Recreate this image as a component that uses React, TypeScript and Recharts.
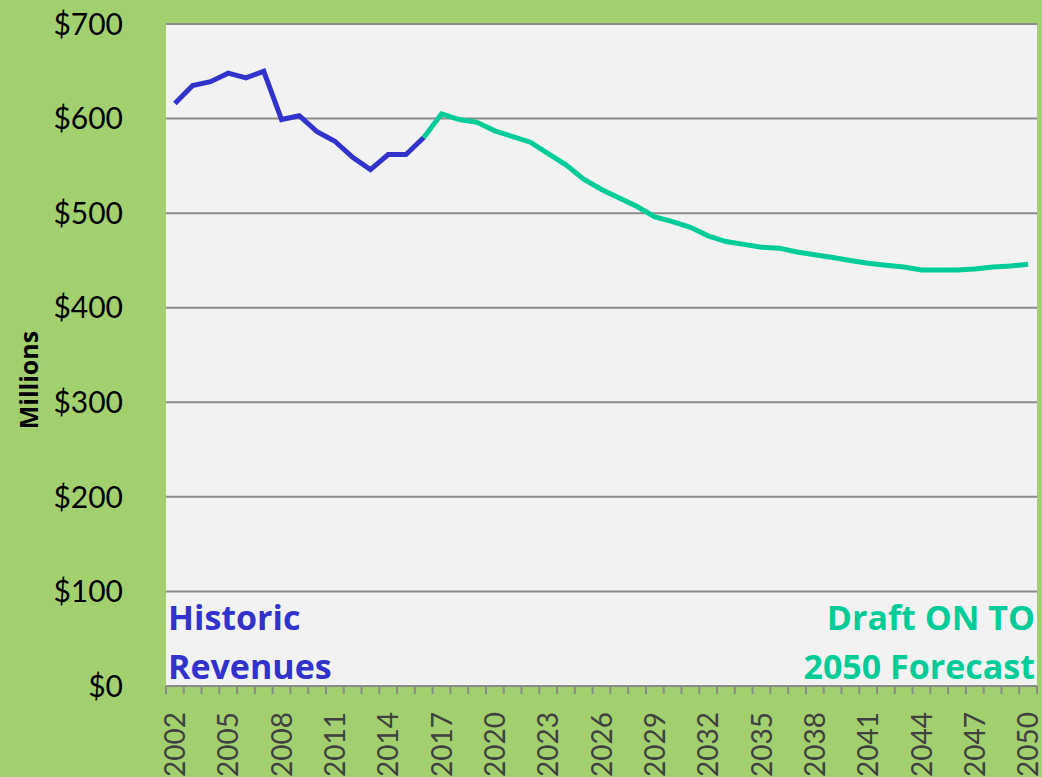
import React from 'react';
import { LineChart, Line, XAxis, YAxis, CartesianGrid } from 'recharts';

const years = [
  2002, 2003, 2004, 2005, 2006, 2007, 2008, 2009, 2010, 2011, 2012, 2013, 2014, 2015, 2016,
  2017, 2018, 2019, 2020, 2021, 2022, 2023, 2024, 2025, 2026, 2027, 2028, 2029, 2030, 2031,
  2032, 2033, 2034, 2035, 2036, 2037, 2038, 2039, 2040, 2041, 2042, 2043, 2044, 2045, 2046,
  2047, 2048, 2049, 2050,
];

// 2002 - 2016
const historic = [616, 635, 639, 648, 643, 650, 599, 603, 586, 576, 559, 546, 562, 562, 580];

// 2016 - 2050
const forecast = [
  580, 605, 599, 596, 587, 581, 575, 563, 551, 536, 525, 516, 507, 496, 491, 485, 476, 470,
  467, 464, 463, 459, 456, 453, 450, 447, 445, 443, 440, 440, 440, 441, 443, 444, 446,
];

const yTicks = [0, 100, 200, 300, 400, 500, 600, 700];

const data = years.map((year, i) => ({
  year,
  historic: i < historic.length ? historic[i] : null,
  forecast: i >= historic.length - 1 ? forecast[i - (historic.length - 1)] : null,
}));

const W = 1042;
const H = 777;
const LEFT = 166;
const RIGHT = 5;
const BAND = (W - LEFT - RIGHT) / years.length;
const BLUE = '#3232cc';
const TEAL = '#00cc98';
const FONT = 'Lato, "Open Sans", sans-serif';
const BOLD_FONT = '"Open Sans", Lato, sans-serif';

const YearTick = (props: any) => {
  const { x, y, payload, index } = props;
  return (
    <g>
      <line x1={x - BAND / 2} x2={x - BAND / 2} y1={y} y2={y + 8} stroke="#8a8a8a" strokeWidth={2} />
      {index === years.length - 1 && (
        <line x1={x + BAND / 2} x2={x + BAND / 2} y1={y} y2={y + 8} stroke="#8a8a8a" strokeWidth={2} />
      )}
      {index % 3 === 0 && (
        <text
          x={x}
          y={y + 26}
          dy="0.36em"
          textAnchor="end"
          transform={`rotate(-90, ${x}, ${y + 26})`}
          fill="#404040"
          fontSize={28}
          fontFamily={FONT}
        >
          {payload.value}
        </text>
      )}
    </g>
  );
};

const MillionsLabel = () => (
  <text
    x={29}
    y={380}
    dy="0.36em"
    textAnchor="middle"
    transform="rotate(-90, 29, 380)"
    fontSize={25}
    fontWeight={700}
    fill="#000"
    fontFamily={BOLD_FONT}
  >
    Millions
  </text>
);

const App: React.FC = () => {
  return (
    <div style={{ position: 'fixed', left: 0, top: 0, width: W, height: H, background: '#a3d06f' }}>
      <LineChart width={W} height={H} data={data} margin={{ top: 24, right: RIGHT, bottom: 0, left: 0 }}>
        <CartesianGrid vertical={false} fill="#f2f2f2" stroke="#8a8a8a" strokeWidth={2} />
        <XAxis
          dataKey="year"
          scale="band"
          interval={0}
          height={91}
          tickSize={0}
          tickMargin={0}
          tick={<YearTick />}
          axisLine={{ stroke: '#8a8a8a', strokeWidth: 2 }}
        />
        <YAxis
          domain={[0, 700]}
          ticks={yTicks}
          width={LEFT}
          axisLine={false}
          tickLine={false}
          tickSize={0}
          tickMargin={43}
          tickFormatter={(v: number) => `$${v}`}
          tick={{ fill: '#000', fontSize: 30, fontFamily: FONT }}
          label={{ content: <MillionsLabel /> }}
        />
        <Line
          dataKey="historic"
          stroke={BLUE}
          strokeWidth={5}
          dot={false}
          isAnimationActive={false}
          connectNulls={false}
        />
        <Line
          dataKey="forecast"
          stroke={TEAL}
          strokeWidth={5}
          dot={false}
          isAnimationActive={false}
          connectNulls={false}
        />
      </LineChart>
      <div
        style={{
          position: 'absolute',
          left: 168,
          top: 593,
          color: BLUE,
          fontFamily: BOLD_FONT,
          fontWeight: 700,
          fontSize: 34,
          lineHeight: '49px',
        }}
      >
        Historic
        <br />
        Revenues
      </div>
      <div
        style={{
          position: 'absolute',
          right: 7,
          top: 593,
          textAlign: 'right',
          color: TEAL,
          fontFamily: BOLD_FONT,
          fontWeight: 700,
          fontSize: 34,
          lineHeight: '49px',
        }}
      >
        Draft ON TO
        <br />
        2050 Forecast
      </div>
    </div>
  );
};

export default App;
